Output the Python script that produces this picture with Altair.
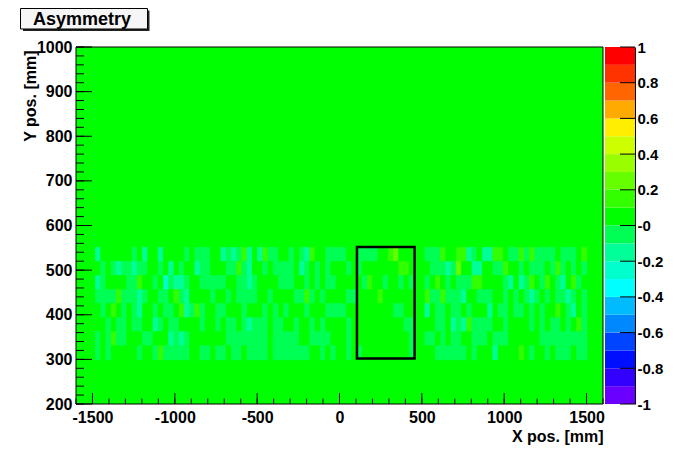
import altair as alt
import pandas as pd

FONT = "Liberation Sans"

# ---------------- data ----------------
X_RANGE = [-1600, 1600]
Y_RANGE = [200, 1000]
BACKGROUND_VALUE = 0.05

BAND_X_START = -1482.0
BAND_X_STEP = 31.75
BAND_Y_START = 299.0
BAND_Y_STEP = 31.5

CODE_VALUE = {"C": -0.25, "M": -0.15, "L": -0.05, "G": 0.05, "Y": 0.15, "Z": 0.25}

BAND_ROWS_TOP_DOWN = [
    "MGGGGGGLGM GGMGGGGLGL LLGGMLMLYM GMYLLGGLGL MYGGLLLLGG LLLLGGYZGG GGGLLLYGGY YMLGMMYYGL LYLYLLLLGL LLGY",
    "GLGLMLLMLL GGLGMGLGGM LLGGGLLYLM GGLGLLLLGM LGLGLGGGLG LGGGGGGGYY GGGGLLLMLZ GGMMGGLLYG GLGLLLGLYL GLGL",
    "MLGGGGLLYG GLGCLMMLGG LLLLLGGLLM LGGGGLLLGG LGLGLLGGGG GLYGGLGGLG LGGLGYGLGL LLYYGGGGLM GMLYGLYGLM GYLG",
    "LLLLYLLLML GGLLGYLMGG GGLGGLGLLL LGGLGGGGLL YLGLGGGGLL GGGGYGGGGG GGGYLLYLLL MGGLLLGGLG LGLMLGLGLL MLGL",
    "GLGYGLGLMG GLGLLGYMLY LGGLLGGGLG GGLGLGLGGG LGGGLLLLGG GGGGGGGLLG GGGMGLLGLL GLGGGMGLLG LLGLGLGGYG LMGL",
    "GGLGLLGLLG GMLGLLGGGG LGGLGLLGLM LLLGLLGGLG GLGLGGGGLG GGGGGGGGGL LGGGGLLGML MYLLLLGGLG GGGLGLGLLG LGYL",
    "LGLYLLGGGL LGGGMLMLGG GGGGGLLLLL LLLGLLLLLG GLLLLGGGLG GGGGGGGGGG LGGLLGLGLL GGLLLGLLLG GGGGGLLLLL LLLL",
    "LGLGGGGGLG GLYLLLLLGG LLGLLGLLGL LLLGLLLLLL LGGLGLGGLG LGGGGGGGGG LGGGGLLLLL LGLGGGMGGG GYGLGGLGLL LGLL",
]

BOX_X = [106, 456]
BOX_Y = [302, 552]

LEVEL_EDGES = [-1.0, -0.9, -0.8, -0.7, -0.6, -0.5, -0.4, -0.3, -0.2, -0.1, 0.0,
               0.1, 0.2, 0.3, 0.4, 0.5, 0.6, 0.7, 0.8, 0.9, 1.0]
LEVEL_COLORS = ["#6a00ff", "#3300ff", "#0010ff", "#0044ff", "#0088ff",
                "#00bbff", "#00ffff", "#00ffcc", "#00ff99", "#00ff55",
                "#00ff00", "#33ff00", "#66ff00", "#99ff00", "#ccff00",
                "#ffee00", "#ffaa00", "#ff6600", "#ff3300", "#ff0000"]

X_MAJOR = [-1500, -1000, -500, 0, 500, 1000, 1500]
X_MINOR = list(range(-1600, 1601, 100))
Y_MAJOR = list(range(200, 1001, 100))
Y_MINOR = list(range(200, 1001, 20))
PAL_TICKS = [-1.0, -0.8, -0.6, -0.4, -0.2, 0.0, 0.2, 0.4, 0.6, 0.8, 1.0]

TITLE = "Asymmetry"
X_TITLE = "X pos. [mm]"
Y_TITLE = "Y pos. [mm]"

# ---------------- tables ----------------
rows = []
n_rows = len(BAND_ROWS_TOP_DOWN)
for r, s in enumerate(BAND_ROWS_TOP_DOWN):
    s = s.replace(" ", "")
    j = n_rows - 1 - r
    y0 = BAND_Y_START + j * BAND_Y_STEP
    for c, ch in enumerate(s):
        x0 = BAND_X_START + c * BAND_X_STEP
        rows.append({"x0": x0, "x1": x0 + BAND_X_STEP, "y0": y0,
                     "y1": y0 + BAND_Y_STEP, "v": CODE_VALUE[ch]})
heat_df = pd.DataFrame(rows)

bg_df = pd.DataFrame([{"x0": X_RANGE[0], "x1": X_RANGE[1], "y0": Y_RANGE[0],
                       "y1": Y_RANGE[1], "v": BACKGROUND_VALUE}])
box_df = pd.DataFrame([{"x0": BOX_X[0], "x1": BOX_X[1], "y0": BOX_Y[0], "y1": BOX_Y[1]}])
frame_df = pd.DataFrame([{"x0": X_RANGE[0], "x1": X_RANGE[1], "y0": Y_RANGE[0], "y1": Y_RANGE[1]}])

pal_df = pd.DataFrame([{"p0": LEVEL_EDGES[i], "p1": LEVEL_EDGES[i + 1],
                        "v": (LEVEL_EDGES[i] + LEVEL_EDGES[i + 1]) / 2}
                       for i in range(len(LEVEL_COLORS))])

W, H = 527, 357

# ---------------- scales / axes ----------------
xs = alt.Scale(domain=X_RANGE, nice=False, zero=False)
ys = alt.Scale(domain=Y_RANGE, nice=False, zero=False)
ps = alt.Scale(domain=[-1, 1], nice=False, zero=False)
cs = alt.Scale(type="threshold", domain=LEVEL_EDGES[1:-1], range=LEVEL_COLORS)

lab = dict(labelFont=FONT, labelFontSize=16, labelFontWeight="bold", labelColor="black")
tit = dict(titleFont=FONT, titleFontSize=16, titleFontWeight="bold", titleColor="black")

xaxis = alt.Axis(values=X_MAJOR, ticks=False, tickSize=0, domain=False, grid=False,
                 labelPadding=5,
                 labelExpr="(datum.value < 0 ? '-' : '') + format(abs(datum.value), 'd')",
                 title=X_TITLE, titleX=W, titleY=32, titleAlign="right",
                 titleBaseline="middle", **lab, **tit)
yaxis = alt.Axis(values=Y_MAJOR, ticks=False, tickSize=0, domain=False, grid=False,
                 labelPadding=4, labelExpr="format(datum.value, 'd')",
                 title=Y_TITLE, titleAngle=270, titleX=-46, titleY=3,
                 titleAlign="right", titleBaseline="middle", **lab, **tit)
paxis = alt.Axis(orient="right", offset=32, values=PAL_TICKS, ticks=False, tickSize=0,
                 domain=True, domainColor="black", domainWidth=1, grid=False,
                 labelPadding=2, labelAlign="left",
                 labelExpr="abs(datum.value) < 1e-9 ? '-0' : (datum.value < 0 ? '-' : '') + format(abs(datum.value), '~g')",
                 title=None, labelFont=FONT, labelFontSize=15, labelFontWeight="bold",
                 labelColor="black")

X = lambda f: alt.X(f, type="quantitative", scale=xs, axis=xaxis)
Y = lambda f: alt.Y(f, type="quantitative", scale=ys, axis=yaxis)

# ---------------- main panel ----------------
bg = alt.Chart(bg_df).mark_rect().encode(
    x=X("x0"), x2="x1", y=Y("y0"), y2="y1",
    color=alt.Color("v:Q", scale=cs, legend=None))

heat = alt.Chart(heat_df).mark_rect(strokeWidth=0.6).encode(
    x=X("x0"), x2="x1", y=Y("y0"), y2="y1",
    color=alt.Color("v:Q", scale=cs, legend=None),
    stroke=alt.Stroke("v:Q", scale=cs, legend=None))

box = alt.Chart(box_df).mark_rect(filled=False, stroke="black", strokeWidth=2.5).encode(
    x=X("x0"), x2="x1", y=Y("y0"), y2="y1")

frame = alt.Chart(frame_df).mark_rect(filled=False, stroke="black", strokeWidth=1).encode(
    x=X("x0"), x2="x1", y=Y("y0"), y2="y1")

xmaj = alt.Chart(pd.DataFrame({"t": X_MAJOR})).mark_rule(color="black", strokeWidth=1).encode(
    x=X("t"), y=alt.value(H), y2=alt.value(H - 11))
xmin = alt.Chart(pd.DataFrame({"t": X_MINOR})).mark_rule(color="black", strokeWidth=1).encode(
    x=X("t"), y=alt.value(H), y2=alt.value(H - 5.5))
ymaj = alt.Chart(pd.DataFrame({"t": Y_MAJOR})).mark_rule(color="black", strokeWidth=1).encode(
    y=Y("t"), x=alt.value(0), x2=alt.value(16))
ymin = alt.Chart(pd.DataFrame({"t": Y_MINOR})).mark_rule(color="black", strokeWidth=1).encode(
    y=Y("t"), x=alt.value(0), x2=alt.value(8))

main = alt.layer(bg, heat, box, xmin, xmaj, ymin, ymaj, frame)

# ---------------- palette ----------------
pal = alt.Chart(pal_df).mark_rect().encode(
    x=alt.value(W + 2), x2=alt.value(W + 32),
    y=alt.Y("p0:Q", scale=ps, axis=paxis), y2="p1",
    color=alt.Color("v:Q", scale=cs, legend=None))
pal_ticks = alt.Chart(pd.DataFrame({"t": PAL_TICKS})).mark_rule(color="black", strokeWidth=1).encode(
    y=alt.Y("t:Q", scale=ps, axis=paxis), x=alt.value(W + 17), x2=alt.value(W + 32))
palette = alt.layer(pal, pal_ticks)

# ---------------- title box ----------------
one = alt.Data(values=[{}])
t_shadow = alt.Chart(one).mark_rect(color="#222222").encode(
    x=alt.value(-53), x2=alt.value(73.5), y=alt.value(-36.5), y2=alt.value(-16))
t_box = alt.Chart(one).mark_rect(fill="#f6f6f6", stroke="black", strokeWidth=1).encode(
    x=alt.value(-55.5), x2=alt.value(71.5), y=alt.value(-38.5), y2=alt.value(-18))
t_text = alt.Chart(one).mark_text(text=TITLE, font=FONT, fontSize=18, fontWeight="bold",
                                  color="black", align="center", baseline="middle").encode(
    x=alt.value(6), y=alt.value(-27.5))

chart = alt.layer(main, palette, t_shadow, t_box, t_text).resolve_scale(
    y="independent"
).properties(
    width=W, height=H,
    padding={"left": 68, "top": 39, "right": 64, "bottom": 42},
    autosize=alt.AutoSizeParams(type="none"),
    background="white",
).configure_view(stroke=None)

chart.save("out.html", embed_options={"renderer": "svg", "actions": False})
